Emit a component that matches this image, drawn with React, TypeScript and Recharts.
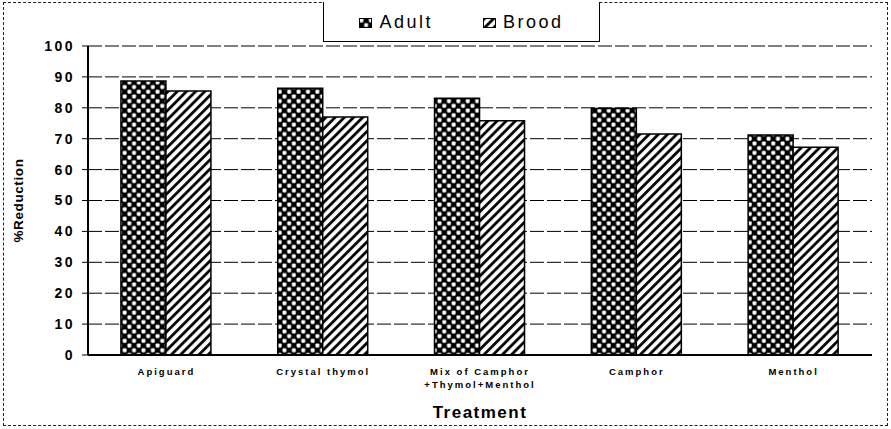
import { BarChart, Bar, XAxis, YAxis, CartesianGrid } from "recharts";

const treatments = [
  "Apiguard",
  "Crystal thymol",
  "Mix of Camphor\n+Thymol+Menthol",
  "Camphor",
  "Menthol",
];
const adult = [88.7, 86.3, 83.1, 79.8, 71.2];
const brood = [85.4, 77.0, 75.8, 71.5, 67.2];
const yTicks = [0, 10, 20, 30, 40, 50, 60, 70, 80, 90, 100];

const data = treatments.map((name, i) => ({
  name,
  Adult: adult[i],
  Brood: brood[i],
}));

const FONT = "'Liberation Sans', Arial, sans-serif";

function Patterns() {
  return (
    <svg width={0} height={0} style={{ position: "absolute" }}>
      <defs>
        <pattern id="checker" width={9.4} height={9.4} patternUnits="userSpaceOnUse">
          <rect width={9.4} height={9.4} fill="#000" />
          <rect x={0.5} y={0.5} width={3.9} height={3.9} rx={1} fill="#fff" />
          <rect x={5.2} y={5.2} width={3.9} height={3.9} rx={1} fill="#fff" />
        </pattern>
        <pattern
          id="hatch"
          width={6.5}
          height={6.5}
          patternUnits="userSpaceOnUse"
          patternTransform="rotate(45)"
        >
          <rect width={6.5} height={6.5} fill="#fff" />
          <line x1={1.5} y1={0} x2={1.5} y2={6.5} stroke="#000" strokeWidth={2.8} />
        </pattern>
      </defs>
    </svg>
  );
}

function XTick(props: any) {
  const { x, y, payload } = props;
  const lines = String(payload.value).split("\n");
  return (
    <text
      x={x}
      y={y + 12}
      textAnchor="middle"
      fontFamily={FONT}
      fontWeight="bold"
      fontSize={9.5}
      letterSpacing={2}
      fill="#000"
    >
      {lines.map((l, i) => (
        <tspan key={i} x={x} dy={i === 0 ? 0 : 12.5}>
          {l}
        </tspan>
      ))}
    </text>
  );
}

function LegendBox() {
  const item = (id: string, label: string) => (
    <div style={{ display: "flex", alignItems: "center", gap: 7 }}>
      <svg width={13} height={10}>
        <rect x={0.5} y={0.5} width={12} height={9} fill={`url(#${id})`} stroke="#000" />
      </svg>
      <span>{label}</span>
    </div>
  );
  return (
    <div
      style={{
        position: "absolute",
        left: 323,
        top: 2,
        width: 277,
        height: 40,
        border: "1.5px solid #000",
        borderTop: "none",
        background: "#fff",
        display: "flex",
        alignItems: "center",
        justifyContent: "center",
        gap: 50,
        fontFamily: FONT,
        fontSize: 18,
        letterSpacing: 2.5,
        color: "#000",
        boxSizing: "border-box",
        paddingTop: 2,
      }}
    >
      {item("checker", "Adult")}
      {item("hatch", "Brood")}
    </div>
  );
}

export default function App() {
  return (
    <div
      style={{
        position: "absolute",
        left: 0,
        top: 0,
        width: 891,
        height: 429,
        background: "#fff",
      }}
    >
      <Patterns />
      <div
        style={{
          position: "absolute",
          left: 3,
          top: 2,
          width: 885,
          height: 424,
          border: "1.5px dashed #222",
          boxSizing: "border-box",
        }}
      />
      <BarChart
        width={891}
        height={429}
        data={data}
        margin={{ top: 46, right: 19, bottom: 0, left: 0 }}
        barCategoryGap="21%"
        barGap={0}
      >
        <CartesianGrid
          vertical={false}
          stroke="#000"
          strokeDasharray="14 3"
          strokeWidth={1}
        />
        <XAxis
          dataKey="name"
          height={74}
          interval={0}
          tick={<XTick />}
          tickLine={false}
          axisLine={{ stroke: "#000", strokeWidth: 2 }}
          label={{
            value: "Treatment",
            position: "insideBottom",
            offset: 11,
            style: {
              fontFamily: FONT,
              fontWeight: "bold",
              fontSize: 17,
              fill: "#000",
              letterSpacing: 1.5,
            },
          }}
        />
        <YAxis
          width={88}
          domain={[0, 100]}
          ticks={yTicks}
          interval={0}
          tickSize={6}
          tickMargin={7}
          tickLine={{ stroke: "#000" }}
          axisLine={{ stroke: "#000", strokeWidth: 2 }}
          tick={{
            fontFamily: FONT,
            fontWeight: "bold",
            fontSize: 14,
            fill: "#000",
            letterSpacing: 2.5,
          }}
          label={{
            value: "%Reduction",
            angle: -90,
            position: "insideLeft",
            offset: 18,
            style: {
              fontFamily: FONT,
              fontWeight: "bold",
              fontSize: 13.5,
              fill: "#000",
              textAnchor: "middle",
              letterSpacing: 0.6,
            },
          }}
        />
        <YAxis
          yAxisId="right"
          orientation="right"
          width={0}
          domain={[0, 100]}
          tick={false}
          tickLine={false}
          axisLine={{ stroke: "#000", strokeWidth: 1 }}
        />
        <Bar
          dataKey="Adult"
          fill="url(#checker)"
          stroke="#000"
          strokeWidth={1.5}
          isAnimationActive={false}
        />
        <Bar
          dataKey="Brood"
          fill="url(#hatch)"
          stroke="#000"
          strokeWidth={1.5}
          isAnimationActive={false}
        />
      </BarChart>
      <LegendBox />
    </div>
  );
}
